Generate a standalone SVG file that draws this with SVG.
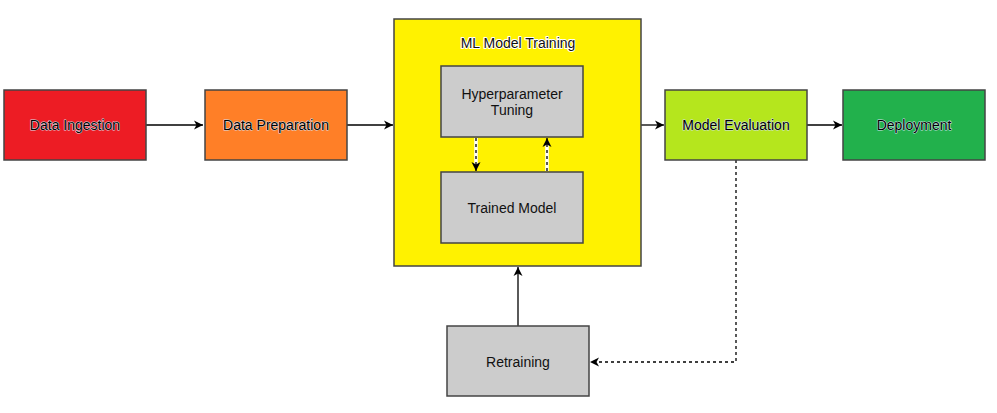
<svg xmlns="http://www.w3.org/2000/svg" width="997" height="413" viewBox="0 0 997 413">
<defs>
<marker id="ah" markerWidth="10" markerHeight="10" refX="9" refY="5" orient="auto" markerUnits="userSpaceOnUse">
<path d="M0,0.5 L9,5 L0,9.5 L2.5,5 Z" fill="#000"/>
</marker>
</defs>
<style>
.box{stroke:#444;stroke-width:1.5}
.t{font-family:"Liberation Sans",Arial,sans-serif;font-size:14px;fill:#111;text-anchor:middle;dominant-baseline:central}
.halo{fill:#000;stroke:#d4e0ee;stroke-width:1;paint-order:stroke;stroke-linejoin:round}
.whalo{stroke:#fff;stroke-width:2;paint-order:stroke;stroke-linejoin:round}
.c{stroke:#000;stroke-width:1.3;fill:none}
.d{stroke-dasharray:3,3}
</style>
<rect width="997" height="413" fill="#fff"/>
<g id="connectors">
<line class="c" x1="146" y1="125" x2="203" y2="125" marker-end="url(#ah)"/>
<line class="c" x1="347" y1="125" x2="393" y2="125" marker-end="url(#ah)"/>
<line class="c" x1="641" y1="125" x2="664" y2="125" marker-end="url(#ah)"/>
<line class="c" x1="807" y1="125" x2="842" y2="125" marker-end="url(#ah)"/>
<line class="c" x1="518" y1="326" x2="518" y2="267" marker-end="url(#ah)"/>
<polyline class="c d" points="736,160 736,362 590,362" marker-end="url(#ah)"/>
</g>
<g id="ml-training">
<rect class="box" x="394" y="19" width="247" height="247" fill="#fff200"/>
<text class="t whalo" x="518" y="43">ML Model Training</text>
</g>
<g id="data-ingestion">
<rect class="box" x="4" y="90" width="142" height="70" fill="#ed1c24"/>
<text class="t halo" x="75" y="125">Data Ingestion</text>
</g>
<g id="data-preparation">
<rect class="box" x="205" y="90" width="142" height="70" fill="#ff7f27"/>
<text class="t halo" x="276" y="125">Data Preparation</text>
</g>
<g id="hyperparameter-tuning">
<rect class="box" x="441" y="66" width="142" height="71" fill="#cccccc"/>
<text class="t" x="512" y="94">Hyperparameter</text>
<text class="t" x="512" y="110">Tuning</text>
</g>
<g id="trained-model">
<rect class="box" x="441" y="172" width="142" height="71" fill="#cccccc"/>
<text class="t" x="512" y="208">Trained Model</text>
</g>
<g id="inner-connectors">
<line x1="476" y1="138" x2="476" y2="168" stroke="#fff" stroke-width="3.5"/>
<line class="c d" x1="476" y1="138" x2="476" y2="171" marker-end="url(#ah)"/>
<line x1="547" y1="171" x2="547" y2="141" stroke="#fff" stroke-width="3.5"/>
<line class="c d" x1="547" y1="171" x2="547" y2="138" marker-end="url(#ah)"/>
</g>
<g id="model-evaluation">
<rect class="box" x="665" y="90" width="142" height="70" fill="#b5e61d"/>
<text class="t halo" x="736" y="125">Model Evaluation</text>
</g>
<g id="deployment">
<rect class="box" x="843" y="90" width="142" height="70" fill="#22b14c"/>
<text class="t halo" x="914" y="125">Deployment</text>
</g>
<g id="retraining">
<rect class="box" x="447" y="326" width="142" height="70" fill="#cccccc"/>
<text class="t" x="518" y="362">Retraining</text>
</g>
</svg>
